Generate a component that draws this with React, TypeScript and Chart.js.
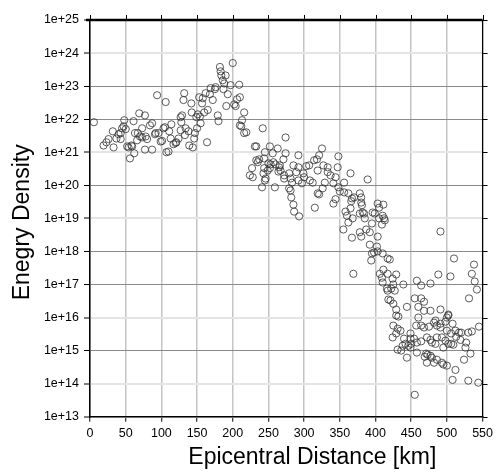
import React, { useEffect, useRef } from "react";
import { Chart, registerables } from "chart.js";

Chart.register(...registerables);

// ---- data (epicentral distance in km, energy density) ----
const distanceKm: number[] = [
  5.5, 19, 23, 26, 32, 33, 37, 40, 43, 43,
  45, 47, 48, 50, 52, 54, 56, 58, 59, 61,
  62, 63, 66, 67, 69, 70, 73, 73, 77, 77,
  78, 80, 84, 87, 87, 91, 92, 94, 96, 99,
  101, 103, 105, 106, 107, 110, 111, 113, 114, 117,
  120, 121, 124, 127, 127, 128, 129, 131, 132, 133,
  134, 138, 139, 142, 142.5, 144, 146, 147, 149, 150,
  151, 153, 154, 155, 157, 158, 160, 162, 164, 165,
  168, 169, 172, 175, 176, 179, 180, 182, 183, 184,
  186, 187, 188, 190, 191, 193, 200, 197, 202, 204,
  206, 209, 210, 212, 213, 216, 216, 219, 210,
  // cluster B
  242, 274, 231, 233, 252, 263, 325, 256, 274, 245,
  292, 321, 348, 233, 235, 237, 244, 250, 253, 257,
  260, 266, 271, 314, 318, 327, 333, 347, 285, 292,
  303, 307, 227, 244, 249, 252, 264, 267, 289, 299,
  319, 333, 365, 389, 224, 228, 243, 246, 272, 279,
  281, 283, 292, 297, 300, 308, 312, 329, 337, 341,
  344, 348, 356, 241, 259, 281, 282, 285, 286, 293,
  315, 319, 321, 326, 341, 344, 350, 356, 362, 366,
  367, 370, 378, 380, 380, 381, 382, 378, 384, 385,
  365, 358, 360, 368, 362, 355, 367, 378, 380, 387,
  392, 395, 396, 399, 403, 405, 411, 410, 412, 413,
  409, 405, 403, 491, 245, 272, 279, 265,
  // cluster C
  392, 402, 398, 403, 395, 410, 394, 417, 420, 369,
  411, 406, 409, 410, 424, 417, 429, 416, 417, 422,
  427, 425, 439, 418, 421, 425, 429, 429, 432, 444,
  458, 464, 477, 488, 505, 510, 535, 538, 539, 542,
  531, 455, 464, 468, 460, 468, 477, 491, 502, 545,
  // cluster D
  460, 457, 464, 468, 475, 482, 484, 486, 491, 498,
  502, 500, 508, 491, 500, 506, 512, 517, 520, 530,
  535, 425, 431, 435, 424, 429, 449, 449, 454, 458,
  464, 472, 477, 479, 484, 486, 493, 498, 502, 509,
  513, 519, 527, 526, 533, 524, 512, 431, 436, 438,
  442, 446, 449, 444, 458, 471, 473, 472, 479, 482,
  486, 493, 495, 500, 508, 530, 544, 455, 450, 440,
  469, 477, 495, 506,
];

const energyDensity: number[] = [
  8.1e21, 1.6e21, 2e21, 2.5e21, 4.3e21, 1.4e21, 2.6e21, 3.5e21, 3.8e21, 2.5e21,
  5.3e21, 6.1e21, 9.3e21, 5e21, 1.5e21, 1.4e21, 6.5e20, 1.6e21, 1.5e21, 8.7e21,
  9.3e20, 3.8e21, 2.3e21, 3.8e21, 1.5e22, 3e21, 2.8e21, 5.3e21, 1.3e22, 1.2e21,
  3e21, 2.5e21, 6.5e21, 7.5e21, 1.2e21, 3.5e21, 3.8e21, 5.3e22, 3.8e21, 2.1e21,
  2.2e21, 5.3e21, 5.7e21, 3.3e22, 1e21, 1.05e21, 4.3e21, 2.6e21, 7e21, 1.75e21,
  1.9e21, 2e21, 2.6e21, 4.6e21, 1.15e22, 8.1e21, 1.3e22, 3.8e22, 6.1e22, 3.3e21,
  5.3e21, 4.3e21, 1.6e21, 3e22, 1.6e22, 1.4e21, 2.6e21, 3.8e21, 1.15e22, 5.3e21,
  1.4e22, 4.6e22, 1.2e22, 7.5e21, 3e22, 4.3e22, 1.6e22, 6.1e22, 2e21, 1.9e22,
  5.7e22, 8.7e22, 3.8e22, 8.1e22, 9.3e22, 1.3e22, 8.7e21, 3.8e23, 2.8e23, 2.1e23,
  1.5e23, 8.1e22, 1.2e23, 2.1e23, 2.5e22, 5.7e22, 5e23, 1.07e23, 2.8e22, 2.5e22,
  4e22, 1.1e23, 4.6e22, 6.1e21, 9.3e21, 1.6e22, 3.8e21, 4e21, 6.5e21,
  // cluster B
  5.3e21, 2.8e21, 1.5e21, 1.5e21, 1.5e21, 1.3e21, 1.3e21, 9.3e20, 9.3e20, 1e21,
  8.1e20, 8.1e20, 7.5e20, 5.7e20, 5e20, 6.1e20, 6.5e20, 4.6e20, 4.3e20, 5e20,
  4.3e20, 4e20, 6.1e20, 5.7e20, 6.1e20, 4e20, 3.5e20, 3.5e20, 4e20, 3.5e20,
  3.8e20, 4e20, 3.3e20, 3.3e20, 2.8e20, 3.3e20, 2.6e20, 2.8e20, 2.5e20, 2.3e20,
  2.8e20, 2.5e20, 2.3e20, 1.5e20, 2e20, 1.75e20, 2.3e20, 1.6e20, 2e20, 2.3e20,
  1.6e20, 1.2e20, 1.4e20, 1.15e20, 1.75e20, 1.4e20, 1.2e20, 1.2e20, 2e20, 1.15e20,
  1.75e20, 8.7e19, 1.2e20, 8.7e19, 8.7e19, 7e19, 4.3e19, 2.6e19, 1.6e19, 1.15e19,
  2.1e19, 5.7e19, 5.3e19, 8.1e19, 2.8e19, 3.8e19, 6.5e19, 6.1e19, 5.7e19, 3.3e19,
  4e19, 4.3e19, 5.7e19, 4.3e19, 3e19, 2.5e19, 1.5e19, 1.4e19, 1.4e19, 1e19,
  2e19, 1.6e19, 1.2e19, 1e19, 7.5e18, 4.6e18, 2.6e18, 3.8e18, 2.8e18, 4.6e18,
  3.8e18, 7e18, 1.5e19, 1.4e19, 2.8e19, 2.1e19, 2.6e19, 1.2e19, 1e19, 8.7e18,
  6.5e18, 1e19, 2.8e18, 4e18, 1.4e20, 1.6e20, 8.1e19, 3.5e20,
  // cluster C
  1.6e18, 1.4e18, 9.3e17, 1e18, 8.7e17, 8.7e17, 5.3e17, 6.1e17, 5.7e17, 2.1e17,
  2.8e17, 2.1e17, 1.6e17, 1.15e17, 1.5e17, 2.1e17, 2e17, 7.5e16, 6.5e16, 7.5e16,
  6.5e16, 1e17, 1e17, 3.5e16, 3.3e16, 2.6e16, 1.75e16, 1.15e16, 1.07e16, 2.1e16,
  1.3e17, 9.3e16, 1.07e17, 2e17, 1.75e17, 6.1e17, 2.1e17, 4e17, 1.23e17, 7e16,
  3.8e16, 3.8e16, 3.8e16, 3e16, 2.1e16, 1.6e16, 1.6e16, 1.75e16, 1.23e16, 5.3e15,
  // cluster D
  1e16, 5.7e15, 5.7e15, 5e15, 5.3e15, 7e15, 8.1e15, 5.7e15, 6.5e15, 7.5e15,
  1.15e16, 1e16, 6.5e15, 5e15, 4e15, 3.3e15, 4e15, 3.5e15, 3.5e15, 3.5e15,
  3.8e15, 5.7e15, 4.6e15, 4e15, 2.5e15, 3.3e15, 3.3e15, 2.3e15, 2.3e15, 1.75e15,
  1.9e15, 2.5e15, 2.1e15, 1.75e15, 1.6e15, 2.5e15, 2.5e15, 2e15, 1.6e15, 1.5e15,
  2.6e15, 2.1e15, 1.75e15, 1.23e15, 8.1e14, 5.3e14, 2.6e14, 1.07e15, 1e15, 1.4e15,
  1.6e15, 1.4e15, 1.23e15, 6.1e14, 8.7e14, 8.1e14, 7.5e14, 4.3e14, 6.1e14, 4.3e14,
  5.3e14, 4.3e14, 3.8e14, 3.5e14, 1.3e14, 1.23e14, 1.07e14, 4.6e13, 1.6e15, 2.3e15,
  6.5e14, 7e14, 1.23e15, 1.6e15,
];

const yTickExponents: number[] = [13, 14, 15, 16, 17, 18, 19, 20, 21, 22, 23, 24, 25];
const darkGridExponents: number[] = [15, 17, 18, 20, 22, 23];
const xMin = 0;
const xMax = 550;
const xStep = 50;
const xTitle = "Epicentral Distance [km]";
const yTitle = "Enegry Density";

const FONT = "'Liberation Sans', Arial, Helvetica, sans-serif";

const framePlugin = {
  id: "frame",
  afterDraw(chart: any) {
    const { ctx, chartArea } = chart;
    const { left, right, top, bottom } = chartArea;
    const x = chart.scales.x;
    const y = chart.scales.y;
    ctx.save();
    ctx.strokeStyle = "#000";
    // top ticks
    ctx.lineWidth = 1;
    x.ticks.forEach((t: any) => {
      const px = Math.round(x.getPixelForValue(t.value)) + 0.5;
      ctx.beginPath();
      ctx.moveTo(px, top);
      ctx.lineTo(px, top - 5);
      ctx.stroke();
    });
    // right ticks
    y.ticks.forEach((t: any) => {
      const py = Math.round(y.getPixelForValue(t.value)) + 0.5;
      ctx.beginPath();
      ctx.moveTo(right, py);
      ctx.lineTo(right + 5, py);
      ctx.stroke();
    });
    // borders
    ctx.lineWidth = 1.2;
    ctx.beginPath();
    ctx.moveTo(right, top);
    ctx.lineTo(right, bottom);
    ctx.stroke();
    ctx.lineWidth = 2.5;
    ctx.beginPath();
    ctx.moveTo(left - 4, top);
    ctx.lineTo(right, top);
    ctx.stroke();

    // axis titles
    ctx.fillStyle = "#000";
    ctx.font = `23px ${FONT}`;
    ctx.textAlign = "center";
    ctx.textBaseline = "middle";
    ctx.fillText(xTitle, (left + right) / 2 + 26, bottom + 41);
    ctx.translate(23, (top + bottom) / 2 + 4);
    ctx.rotate(-Math.PI / 2);
    ctx.fillText(yTitle, 0, 0);
    ctx.restore();
  },
};

export default function App() {
  const canvasRef = useRef<HTMLCanvasElement | null>(null);

  useEffect(() => {
    if (!canvasRef.current) return;
    const points = distanceKm.map((d, i) => ({ x: d, y: energyDensity[i] }));
    const chart = new Chart(canvasRef.current, {
      type: "scatter",
      data: {
        datasets: [
          {
            data: points,
            pointStyle: "circle",
            pointRadius: 3.6,
            pointBorderWidth: 0.8,
            pointBorderColor: "#333",
            pointBackgroundColor: "rgba(0,0,0,0)",
            pointHoverRadius: 3.6,
          },
        ],
      },
      options: {
        animation: false,
        responsive: true,
        maintainAspectRatio: false,
        events: [],
        layout: { padding: { top: 20, right: 7.5, left: 0, bottom: 0 } },
        plugins: { legend: { display: false }, tooltip: { enabled: false } },
        scales: {
          x: {
            type: "linear",
            min: xMin,
            max: xMax,
            afterFit: (s: any) => {
              s.height = 55.3;
            },
            ticks: {
              stepSize: xStep,
              color: "#000",
              font: { family: FONT, size: 12.5 },
              padding: 4,
              maxRotation: 0,
            },
            grid: {
              color: "#c4c4c4",
              lineWidth: 1.5,
              tickColor: "#000",
              tickLength: 5,
              tickWidth: 1,
            },
            border: { color: "#000", width: 1.5 },
            title: { display: false },
          },
          y: {
            type: "logarithmic",
            min: Math.pow(10, yTickExponents[0]),
            max: Math.pow(10, yTickExponents[yTickExponents.length - 1]),
            afterFit: (s: any) => {
              s.width = 90;
            },
            afterBuildTicks: (s: any) => {
              s.ticks = yTickExponents.map((e) => ({ value: Math.pow(10, e) }));
            },
            ticks: {
              color: "#000",
              font: { family: FONT, size: 12.5 },
              padding: 5,
              callback: (v: any) => "1e+" + Math.round(Math.log10(Number(v))),
            },
            grid: {
              color: (ctx: any) => {
                const e = Math.round(Math.log10(ctx.tick?.value ?? 1));
                return darkGridExponents.includes(e) ? "#8a8a8a" : "#e4e4e4";
              },
              lineWidth: (ctx: any) => {
                const e = Math.round(Math.log10(ctx.tick?.value ?? 1));
                return darkGridExponents.includes(e) ? 1 : 2;
              },
              tickColor: "#000",
              tickLength: 6,
              tickWidth: 1,
            },
            border: { color: "#000", width: 1.5 },
            title: { display: false },
          },
        },
      },
      plugins: [framePlugin],
    });
    return () => chart.destroy();
  }, []);

  return (
    <div style={{ position: "fixed", left: 0, top: 0, width: 497, height: 472, background: "#fff" }}>
      <canvas ref={canvasRef} />
    </div>
  );
}
